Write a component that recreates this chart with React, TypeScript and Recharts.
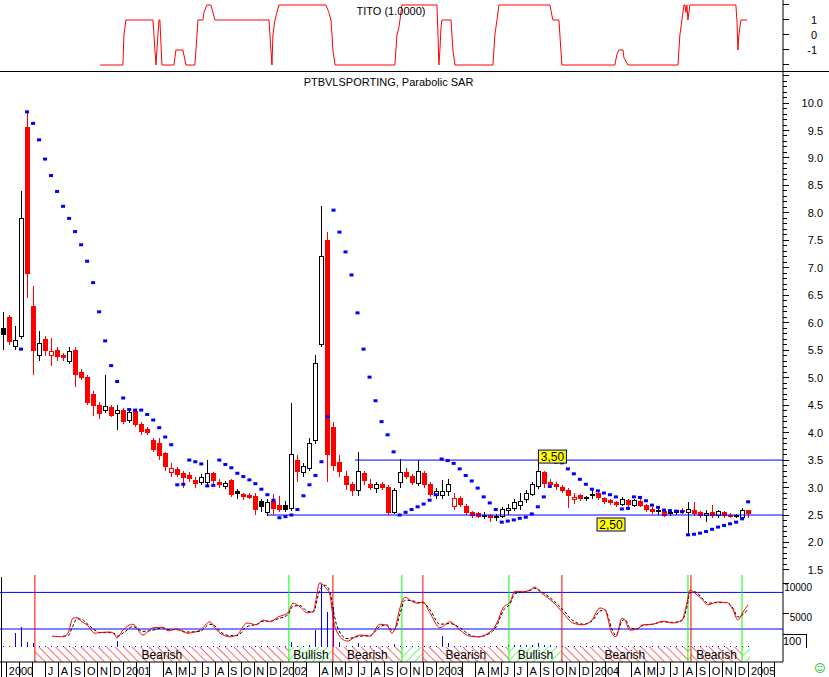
import React from 'react';
import {
  ComposedChart, Bar, Line, XAxis, YAxis, ReferenceLine, ReferenceArea, ReferenceDot,
} from 'recharts';

// time axis is in months since Jan 2000; price bars are two-weekly
const X_DOMAIN: [number, number] = [2.48, 62.62];
const FIRST_BAR = 2.71;
const BAR_STEP = 12 / 26;

const OPEN = [
  5.9, 6.1, 5.56, 5.75, 9.55, 6.3, 5.4, 5.7, 5.4, 5.5,
  5.4, 5.3, 5.5, 5.1, 5.0, 4.7, 4.5, 4.4, 4.45, 4.35,
  4.4, 4.22, 4.38, 4.15, 4.05, 3.85, 3.8, 3.62, 3.27, 3.33,
  3.25, 3.22, 3.12, 3.1, 3.1, 3.25, 3.1, 3.02, 3.12, 2.92,
  2.88, 2.85, 2.84, 2.75, 2.55, 2.74, 2.68, 2.68, 2.62, 3.5,
  3.28, 3.35, 3.85, 5.6, 7.5, 4.1, 3.45, 3.2, 3.05, 2.95,
  3.25, 3.05, 2.98, 3.05, 3.0, 2.55, 3.1, 3.28, 3.2, 3.08,
  3.25, 3.05, 2.85, 2.85, 2.92, 2.65, 2.8, 2.65, 2.55, 2.52,
  2.48, 2.5, 2.48, 2.48, 2.58, 2.62, 2.68, 2.78, 2.88, 3.02,
  3.28, 3.1, 3.05, 3.01, 2.95, 2.78, 2.85, 2.8, 2.85, 2.9,
  2.8, 2.77, 2.73, 2.7, 2.76, 2.68, 2.74, 2.68, 2.6, 2.56,
  2.57, 2.52, 2.55, 2.58, 2.55, 2.58, 2.55, 2.5, 2.55, 2.5,
  2.55, 2.5, 2.48, 2.46, 2.59,
];
const HIGH = [
  6.2, 6.15, 5.95, 8.4, 9.82, 6.67, 5.85, 5.75, 5.72, 5.55,
  5.45, 5.55, 5.55, 5.15, 5.05, 4.75, 4.55, 5.05, 4.5, 4.5,
  4.45, 4.4, 4.42, 4.2, 4.1, 3.9, 3.9, 3.65, 3.45, 3.38,
  3.3, 3.28, 3.2, 3.25, 3.5, 3.28, 3.15, 3.12, 3.15, 2.98,
  2.9, 2.9, 2.9, 2.8, 2.8, 2.88, 2.85, 2.75, 4.54, 3.6,
  3.45, 3.9, 5.41, 8.13, 7.65, 4.2, 3.6, 3.3, 3.1, 3.65,
  3.3, 3.15, 3.1, 3.1, 3.05, 3.0, 3.52, 3.35, 3.25, 3.5,
  3.3, 3.1, 3.0, 3.14, 3.15, 2.9, 2.85, 2.7, 2.58, 2.55,
  2.55, 2.52, 2.52, 2.65, 2.7, 2.8, 2.9, 2.95, 3.1, 3.5,
  3.3, 3.15, 3.1, 3.05, 3.0, 2.9, 2.88, 2.85, 2.95, 2.95,
  2.82, 2.8, 2.76, 2.82, 2.8, 2.8, 2.8, 2.7, 2.65, 2.64,
  2.6, 2.56, 2.6, 2.62, 2.74, 2.74, 2.58, 2.6, 2.68, 2.6,
  2.58, 2.53, 2.52, 2.62, 2.6,
];
const LOW = [
  5.5, 5.6, 5.5, 5.7, 6.45, 5.05, 5.3, 5.4, 5.22, 5.3,
  5.3, 5.25, 4.83, 4.95, 4.5, 4.3, 4.25, 4.35, 4.28, 4.05,
  4.15, 4.18, 4.1, 3.95, 3.95, 3.65, 3.5, 3.3, 3.2, 3.2,
  3.0, 3.1, 3.0, 3.05, 3.05, 3.05, 3.0, 2.98, 2.82, 2.8,
  2.78, 2.8, 2.5, 2.55, 2.48, 2.5, 2.55, 2.55, 2.58, 3.1,
  3.2, 3.3, 3.8, 5.55, 3.1, 3.3, 3.2, 2.95, 2.85, 2.85,
  3.05, 2.95, 2.9, 2.95, 2.5, 2.52, 3.0, 3.15, 3.05, 3.02,
  3.0, 2.82, 2.8, 2.8, 2.85, 2.6, 2.65, 2.5, 2.45, 2.45,
  2.42, 2.37, 2.4, 2.45, 2.5, 2.58, 2.6, 2.72, 2.85, 2.98,
  3.0, 3.0, 2.95, 2.9, 2.63, 2.7, 2.75, 2.75, 2.8, 2.78,
  2.7, 2.68, 2.65, 2.66, 2.65, 2.65, 2.65, 2.55, 2.52, 2.5,
  2.47, 2.48, 2.5, 2.52, 2.14, 2.48, 2.45, 2.37, 2.45, 2.45,
  2.45, 2.45, 2.44, 2.43, 2.45,
];
const CLOSE = [
  5.78, 5.65, 5.68, 7.9, 6.9, 5.5, 5.62, 5.5, 5.48, 5.38,
  5.36, 5.48, 5.05, 5.0, 4.55, 4.5, 4.35, 4.48, 4.32, 4.4,
  4.2, 4.36, 4.15, 4.02, 4.0, 3.7, 3.58, 3.38, 3.35, 3.24,
  3.18, 3.17, 3.08, 3.18, 3.25, 3.12, 3.05, 3.08, 2.88, 2.9,
  2.84, 2.82, 2.6, 2.65, 2.72, 2.62, 2.6, 2.6, 3.6, 3.3,
  3.38, 3.8, 5.25, 7.2, 3.6, 3.4, 3.3, 3.05, 2.95, 3.3,
  3.12, 3.0, 3.05, 3.0, 2.55, 2.95, 3.28, 3.2, 3.1, 3.3,
  3.05, 2.88, 2.92, 2.92, 3.05, 2.8, 2.7, 2.55, 2.5, 2.48,
  2.5, 2.45, 2.46, 2.6, 2.62, 2.72, 2.75, 2.9, 3.05, 3.3,
  3.08, 3.05, 3.02, 2.95, 2.85, 2.82, 2.8, 2.81, 2.88, 2.82,
  2.75, 2.72, 2.7, 2.78, 2.7, 2.76, 2.68, 2.6, 2.56, 2.58,
  2.5, 2.54, 2.58, 2.57, 2.6, 2.52, 2.5, 2.53, 2.5, 2.56,
  2.5, 2.47, 2.49, 2.59, 2.52,
];
const SAR = [
  null, null, null, 5.52, 9.84, 9.63, 9.33, 8.98, 8.68, 8.39,
  8.12, 7.9, 7.66, 7.42, 7.12, 6.73, 6.2, 5.67, 5.22, 4.93,
  4.63, 4.42, 4.41, 4.41, 4.33, 4.23, 4.09, 3.92, 3.78, 3.05,
  3.06, 3.5, 3.47, 3.43, 3.03, 3.04, 3.5, 3.42, 3.36, 3.26,
  3.2, 3.14, 3.07, 2.97, 2.87, 2.77, 2.45, 2.47, 2.5, 2.6,
  2.85, 3.05, 3.22, 3.47, 4.29, 8.05, 7.65, 7.29, 6.87, 6.18,
  5.52, 5.01, 4.58, 4.2, 3.96, 3.65, 2.5, 2.55, 2.6, 2.65,
  2.7, 2.77, 2.87, 3.52, 3.49, 3.44, 3.34, 3.22, 3.12, 2.99,
  2.83, 2.72, 2.6, 2.37, 2.39, 2.41, 2.44, 2.46, 2.52, 2.65,
  2.83, 3.02, 3.46, 3.45, 3.34, 3.25, 3.15, 3.06, 2.97, 2.94,
  2.9, 2.87, 2.83, 2.61, 2.62, 2.83, 2.82, 2.76, 2.68, 2.64,
  2.59, 2.58, 2.57, 2.56, 2.14, 2.15, 2.17, 2.2, 2.24, 2.28,
  2.31, 2.34, 2.37, 2.43, 2.74,
];
const VOLUME = [
  180, 170, 2300, 3300, 800, 700, 170, 180, 170, 170,
  180, 170, 170, 180, 170, 170, 180, 170, 170, 1000,
  180, 170, 170, 180, 170, 170, 180, 170, 170, 180,
  170, 170, 180, 170, 170, 180, 170, 170, 180, 170,
  170, 180, 170, 170, 180, 170, 170, 180, 800, 170,
  170, 400, 2800, 10700, 5800, 6700, 800, 170, 180, 700,
  170, 170, 180, 170, 170, 500, 170, 180, 170, 170,
  180, 170, 170, 1800, 700, 170, 180, 170, 170, 180,
  170, 170, 180, 170, 300, 350, 400, 300, 400, 700,
  400, 300, 180, 170, 170, 180, 170, 170, 180, 170,
  170, 180, 170, 170, 180, 170, 170, 180, 170, 170,
  180, 170, 170, 180, 170, 170, 180, 170, 170, 180,
  170, 170, 180, 170, 170,
];

// TITO indicator (top panel)
const TITO_TIME = [
  10.16, 11.92, 12.0, 12.15, 14.23, 14.38, 14.46, 14.61, 14.69, 14.76, 14.92,
  15.84, 15.99, 16.53, 16.76, 17.45, 17.61, 17.68, 18.07, 18.14, 18.37, 18.68, 18.99,
  23.14, 23.29, 23.37, 23.44, 23.6, 23.75, 23.9, 27.51, 27.74, 27.9, 27.98, 28.05, 28.21,
  32.81, 32.97, 33.12, 33.2, 33.35, 36.04, 36.12, 36.19, 36.27, 36.35, 36.42, 37.12, 37.27, 37.42,
  40.34, 40.49, 40.65, 40.8, 44.72, 44.87, 44.95, 45.41, 45.56, 45.64,
  49.71, 49.86, 50.02, 50.33, 50.4, 50.71,
  54.55, 54.7, 54.86, 55.01, 55.09, 55.16, 55.24, 55.32, 55.39, 55.47,
  59.0, 59.08, 59.16, 59.23, 59.31, 59.39, 59.85,
];
const TITO_VALUE = [
  -2, -2, 0, 1, 1, -1, -2, 0, 1, 1, -2,
  -2, -1, -1, -2, -2, 0, 1, 1, 1.5, 2, 2, 1,
  1, -1, -2, 0, 1, 1.5, 2, 2, 1.5, 1, 0, -1, -2,
  -2, 0, 0.5, 1, 2, 2, 0, -2, -1, 0.5, 1, 1, -1, -2,
  -2, 0, 1, 2, 2, 1.3, 1, 1, -1, -2,
  -2, -1.3, -1, -1, -1.5, -2,
  -2, 0, 1, 2, 2, 1.5, 2, 1, 1.5, 2,
  2, 1, -1, 0, 0.5, 1, 1,
];

// oscillator (bottom panel): fast red line, slow dashed line
const OSC_TIME = [
  6.47, 7.31, 7.7, 8.08, 8.39, 8.77, 9.16, 9.77, 10.16, 10.92,
  11.31, 11.46, 11.92, 12.69, 13.46, 14.23, 14.99, 15.38, 16.07, 16.84,
  17.84, 18.6, 18.99, 19.37, 20.14, 20.68, 21.45, 22.21, 22.68, 23.21,
  23.83, 24.6, 24.98, 25.52, 26.05, 26.52, 27.05, 27.44, 27.82, 28.05,
  28.36, 29.13, 30.13, 30.89, 31.66, 32.2, 32.58, 32.81, 33.2, 33.58,
  34.2, 34.58, 34.96, 35.5, 36.27, 37.04, 37.81, 38.57, 39.19, 40.11,
  40.65, 41.11, 41.65, 42.03, 42.65, 43.18, 43.57, 43.95, 44.49, 44.95,
  45.72, 46.48, 47.25, 47.94, 48.56, 48.94, 49.48, 49.79, 50.25, 50.48,
  50.86, 51.4, 51.86, 52.63, 53.4, 54.17, 54.86, 55.24, 55.47, 55.85,
  56.47, 56.85, 57.55, 58.31, 58.77, 59.16, 59.54, 59.93,
];
const OSC_FAST = [
  1833, 1700, 2300, 4800, 4900, 4200, 3700, 2300, 2400, 2500,
  2000, 1500, 2800, 3800, 2000, 3200, 3300, 2700, 3000, 2300,
  2800, 4200, 3200, 2300, 1700, 2000, 4000, 3700, 4500, 4200,
  5000, 5700, 7300, 6700, 5700, 5900, 10700, 10000, 8700, 5000,
  2500, 1000, 2000, 1800, 3800, 3600, 2300, 3000, 6500, 8300,
  7500, 7300, 7500, 5700, 3200, 4200, 2800, 1800, 1700, 2500,
  4000, 6500, 7500, 9300, 9200, 9500, 10000, 9200, 8300, 7500,
  5700, 4000, 3700, 4500, 6500, 6200, 2300, 1700, 4800, 4500,
  2800, 3000, 3700, 3800, 4300, 4000, 4500, 7300, 9500, 9000,
  7800, 7000, 7500, 7400, 6200, 4500, 5800, 7000,
];
const OSC_SLOW = [
  null, 1800, 1900, 3500, 4700, 4600, 3900, 2800, 2400, 2400,
  2200, 1800, 2300, 3400, 2600, 2800, 3200, 2900, 2900, 2500,
  2600, 3800, 3500, 2600, 1900, 1900, 3400, 3800, 4300, 4300,
  4700, 5400, 6800, 6900, 6000, 5800, 9500, 10300, 9200, 6500,
  3500, 1400, 1800, 1900, 3400, 3700, 2800, 2900, 5500, 7800,
  7700, 7400, 7400, 6200, 3800, 3900, 3200, 2000, 1700, 2300,
  3600, 6000, 7200, 8900, 9200, 9400, 9800, 9400, 8600, 7800,
  6200, 4400, 3800, 4300, 6000, 6200, 3000, 1900, 4300, 4600,
  3200, 3000, 3600, 3800, 4200, 4100, 4400, 6700, 9000, 9200,
  8000, 7300, 7400, 7400, 6500, 5000, 5400, 6300,
];
const OSC_LEVELS = [9100, 3000];

// trend signals and the bearish / bullish bands between them
const SIGNAL_TIME = [5.16, 24.67, 28.05, 33.35, 34.96, 41.57, 45.64, 55.32, 55.55, 59.47];
const SIGNAL_KIND = ['sell', 'buy', 'sell', 'buy', 'sell', 'buy', 'sell', 'buy', 'sell', 'buy'];
const LAST_BAND_END = 60.08;

// support / resistance levels
const LEVEL_VALUE = [3.5, 2.5];
const LEVEL_START = [29.74, 22.98];
const LEVEL_TAG_TIME = [44.91, 49.41];
const LEVEL_TAG_TEXT = ['3,50', '2,50'];

const MONTH_LETTERS = ['J', 'F', 'M', 'A', 'M', 'J', 'J', 'A', 'S', 'O', 'N', 'D'];
const YEARS = ['2000', '2001', '2002', '2003', '2004', '2005'];

const FONT = '"Liberation Sans", Arial, sans-serif';
const RED = '#ff0000';
const BLUE = '#0000ff';
const GREEN = '#00ff00';
const M = { top: 0, right: 0, bottom: 0, left: 0 };
const OSC_DOMAIN: [number, number] = [-2500, 12000];

const bars = OPEN.map((o, i) => ({
  t: FIRST_BAR + i * BAR_STEP,
  o, h: HIGH[i], l: LOW[i], c: CLOSE[i],
  prev: i > 0 ? CLOSE[i - 1] : null,
  sar: SAR[i],
  vol: VOLUME[i],
}));
const titoData = TITO_TIME.map((t, i) => ({ t, v: TITO_VALUE[i] }));
const oscData = OSC_TIME.map((t, i) => ({ t, fast: OSC_FAST[i], slow: OSC_SLOW[i] }));
const bands = SIGNAL_TIME.map((t, i) => ({
  x1: t,
  x2: i + 1 < SIGNAL_TIME.length ? SIGNAL_TIME[i + 1] : LAST_BAND_END,
  bull: SIGNAL_KIND[i] === 'buy',
}));

const priceTicks: number[] = [];
for (let k = 15; k <= 105; k++) priceTicks.push(k / 10);
const monthTicks: number[] = [];
for (let m = 3; m <= 62; m++) monthTicks.push(m);

function monthLabel(t: number) {
  const m = t % 12;
  if (t === 3) return YEARS[0];
  if (m === 0) return YEARS[Math.floor(t / 12)];
  if (t < 6 || m === 1 || m === 2) return '';
  return MONTH_LETTERS[m];
}

const Candle = (props: any) => {
  const { x, y, width, height, payload } = props;
  if (x == null || y == null || !payload) return <g />;
  const { o, h, l, c, prev } = payload;
  const py = (v: number) => y + ((h - v) / (h - l)) * height;
  const cx = Math.round(x + width / 2) + 0.5;
  const color = prev != null && c < prev ? RED : '#000';
  const top = py(Math.max(o, c));
  const bottom = py(Math.min(o, c));
  return (
    <g shapeRendering="crispEdges">
      <line x1={cx} x2={cx} y1={y} y2={y + height} stroke={color} />
      <rect x={cx - 2} y={top} width={4} height={Math.max(1, bottom - top)}
        fill={c > o ? '#fff' : color} stroke={color} />
    </g>
  );
};

const VolBar = (props: any) => {
  const { x, y, width, height } = props;
  if (x == null || y == null) return <g />;
  const cx = Math.round(x + width / 2);
  return <rect x={cx} y={y} width={1} height={Math.max(1, height)} fill={BLUE} shapeRendering="crispEdges" />;
};

const SarDot = (p: any) => {
  if (p.value == null || !Number.isFinite(p.cy)) return <g key={p.index} />;
  return <rect key={p.index} x={p.cx - 2} y={p.cy - 1.5} width={4} height={3} fill={BLUE} />;
};

const PriceTick = ({ x, y, payload }: any) => {
  const v = payload.value;
  const major = Math.abs(v * 2 - Math.round(v * 2)) < 1e-6;
  return (
    <g>
      <line x1={x} x2={x + (major ? 6 : 4)} y1={y} y2={y} stroke="#000" shapeRendering="crispEdges" />
      {major && v < 10.2 && (
        <text x={x + 40} y={y + 4} textAnchor="end" fontSize={11} fontFamily={FONT} fill="#000">{v.toFixed(1)}</text>
      )}
    </g>
  );
};

const TitoTick = ({ x, y, payload }: any) => {
  const v = payload.value;
  return (
    <g>
      <line x1={x} x2={x + 6} y1={y} y2={y} stroke="#000" shapeRendering="crispEdges" />
      {Math.abs(v) < 2 && (
        <text x={x + 34} y={y + 4} textAnchor="end" fontSize={11} fontFamily={FONT} fill="#000">{v}</text>
      )}
    </g>
  );
};

const OscTick = ({ x, y, payload }: any) => (
  <g>
    <line x1={x} x2={x + 6} y1={y - 4} y2={y - 4} stroke="#000" shapeRendering="crispEdges" />
    <text x={x + 29} y={y + 4} textAnchor="end" fontSize={10} fontFamily={FONT} fill="#000">{payload.value}</text>
  </g>
);

const MonthTick = ({ x, y, payload }: any) => {
  const label = monthLabel(payload.value);
  return (
    <g>
      <line x1={x} x2={x} y1={y} y2={y + 15} stroke="#000" shapeRendering="crispEdges" />
      {label && (
        <text x={x + 2} y={y + 13} fontSize={11} fontFamily={FONT} fill="#000">{label}</text>
      )}
    </g>
  );
};

const tagShape = (text: string, above: boolean) => (p: any) => {
  const top = above ? p.cy - 10 : p.cy + 3;
  return (
    <g>
      <rect x={p.cx - 14} y={top} width={28} height={13} fill="#ffff00" stroke="#000080" />
      <text x={p.cx} y={top + 11} textAnchor="middle" fontSize={12} fontFamily={FONT} fill="#000">{text}</text>
    </g>
  );
};

const abs = (left: number, top: number): React.CSSProperties => ({ position: 'absolute', left, top });

export default function App() {
  return (
    <div style={{ position: 'absolute', left: 0, top: 0, width: 829, height: 677, background: '#fff', overflow: 'hidden', fontFamily: FONT }}>
      {/* TITO panel */}
      <div style={abs(0, 0)}>
        <ComposedChart width={829} height={71} data={titoData} margin={M}>
          <XAxis type="number" dataKey="t" domain={X_DOMAIN} allowDataOverflow hide />
          <YAxis orientation="right" width={46} type="number" domain={[-2.4, 2.333]} allowDataOverflow
            ticks={[-2, -1, 0, 1, 2]} interval={0} tickSize={0} tickMargin={0} tickLine={false}
            axisLine={{ stroke: '#000' }} tick={(p: any) => <TitoTick {...p} />} />
          <Line dataKey="v" type="linear" stroke={RED} strokeWidth={1} dot={false} activeDot={false} isAnimationActive={false} />
        </ComposedChart>
      </div>
      <div style={{ ...abs(0, 71), width: 829, height: 1, background: '#000' }} />
      <div style={{ ...abs(0, 4), width: 782, textAlign: 'center', fontSize: 11, lineHeight: '14px' }}>TITO (1.0000)</div>

      {/* price panel */}
      <div style={abs(0, 72)}>
        <ComposedChart width={829} height={503} data={bars} margin={M}>
          <XAxis type="number" dataKey="t" domain={X_DOMAIN} allowDataOverflow hide />
          <YAxis orientation="right" width={46} type="number" domain={[1.408, 10.565]} allowDataOverflow
            ticks={priceTicks} interval={0} tickSize={0} tickMargin={0} tickLine={false}
            axisLine={{ stroke: '#000' }} tick={(p: any) => <PriceTick {...p} />} />
          {LEVEL_VALUE.map((v, i) => (
            <ReferenceLine key={'lv' + i} segment={[{ x: LEVEL_START[i], y: v }, { x: X_DOMAIN[1], y: v }]}
              stroke={BLUE} strokeWidth={1} ifOverflow="visible" />
          ))}
          <Bar dataKey={(d: any) => [d.l, d.h]} barSize={4} shape={(p: any) => <Candle {...p} />} isAnimationActive={false} />
          <Line dataKey="sar" stroke="none" dot={(p: any) => <SarDot {...p} />} activeDot={false} isAnimationActive={false} />
          {LEVEL_VALUE.map((v, i) => (
            <ReferenceDot key={'tag' + i} x={LEVEL_TAG_TIME[i]} y={v} r={0} ifOverflow="visible"
              shape={tagShape(LEVEL_TAG_TEXT[i], i === 0)} />
          ))}
        </ComposedChart>
      </div>
      <div style={{ ...abs(0, 75), width: 777, textAlign: 'center', fontSize: 11, lineHeight: '14px' }}>PTBVLSPORTING, Parabolic SAR</div>

      {/* oscillator / volume panel */}
      <div style={abs(0, 575)}>
        <ComposedChart width={829} height={102} data={bars} margin={M}>
          <defs>
            <pattern id="hatchBear" width="6" height="6" patternUnits="userSpaceOnUse" patternTransform="rotate(-45)">
              <line x1="0" y1="0" x2="0" y2="6" stroke={RED} strokeWidth="1.2" />
            </pattern>
            <pattern id="hatchBull" width="6" height="6" patternUnits="userSpaceOnUse" patternTransform="rotate(45)">
              <line x1="0" y1="0" x2="0" y2="6" stroke={GREEN} strokeWidth="1.2" />
            </pattern>
          </defs>
          <XAxis type="number" dataKey="t" domain={X_DOMAIN} allowDataOverflow ticks={monthTicks} interval={0}
            height={15} tickSize={0} tickMargin={0} tickLine={false} axisLine={{ stroke: '#000' }}
            tick={(p: any) => <MonthTick {...p} />} />
          <YAxis orientation="right" width={46} type="number" domain={OSC_DOMAIN} allowDataOverflow
            ticks={[5000, 10000]} interval={0} tickSize={0} tickMargin={0} tickLine={false}
            axisLine={{ stroke: '#000' }} tick={(p: any) => <OscTick {...p} />} />
          {bands.map((b, i) => (
            <ReferenceArea key={'band' + i} x1={b.x1} x2={b.x2} y1={-2500} y2={0}
              fill={b.bull ? 'url(#hatchBull)' : 'url(#hatchBear)'} fillOpacity={1} stroke="none"
              label={b.x2 - b.x1 > 3 ? { value: b.bull ? 'Bullish' : 'Bearish', position: 'center', fontSize: 12, fill: '#000', fontFamily: FONT } : undefined} />
          ))}
          {OSC_LEVELS.map((v) => (
            <ReferenceLine key={'ol' + v} y={v} stroke={BLUE} strokeWidth={1} />
          ))}
          <Bar dataKey="vol" barSize={2} shape={(p: any) => <VolBar {...p} />} isAnimationActive={false} />
          {SIGNAL_TIME.map((t, i) => (
            <ReferenceLine key={'sig' + i} x={t} stroke={SIGNAL_KIND[i] === 'buy' ? GREEN : RED} strokeWidth={1} />
          ))}
        </ComposedChart>
      </div>
      <div style={abs(0, 575)}>
        <ComposedChart width={829} height={87} data={oscData} margin={{ top: 0, right: 46, bottom: 0, left: 0 }}>
          <XAxis type="number" dataKey="t" domain={X_DOMAIN} allowDataOverflow hide />
          <YAxis type="number" domain={OSC_DOMAIN} allowDataOverflow hide />
          <Line dataKey="slow" type="monotone" stroke="#000" strokeWidth={1} strokeDasharray="3 2"
            dot={false} activeDot={false} connectNulls isAnimationActive={false} />
          <Line dataKey="fast" type="monotone" stroke={RED} strokeWidth={1}
            dot={false} activeDot={false} isAnimationActive={false} />
        </ComposedChart>
      </div>
      <div style={{ ...abs(1, 577), width: 1, height: 100, background: '#000' }} />
      <div style={{ ...abs(783, 634), width: 23, height: 13, borderTop: '1px solid #000', borderRight: '1px solid #000', fontSize: 11, lineHeight: '13px' }}>100</div>
      <div style={{ ...abs(814, 663), fontSize: 11, lineHeight: '12px', color: '#00c000', fontFamily: '"DejaVu Sans", sans-serif' }}>☺</div>
    </div>
  );
}
